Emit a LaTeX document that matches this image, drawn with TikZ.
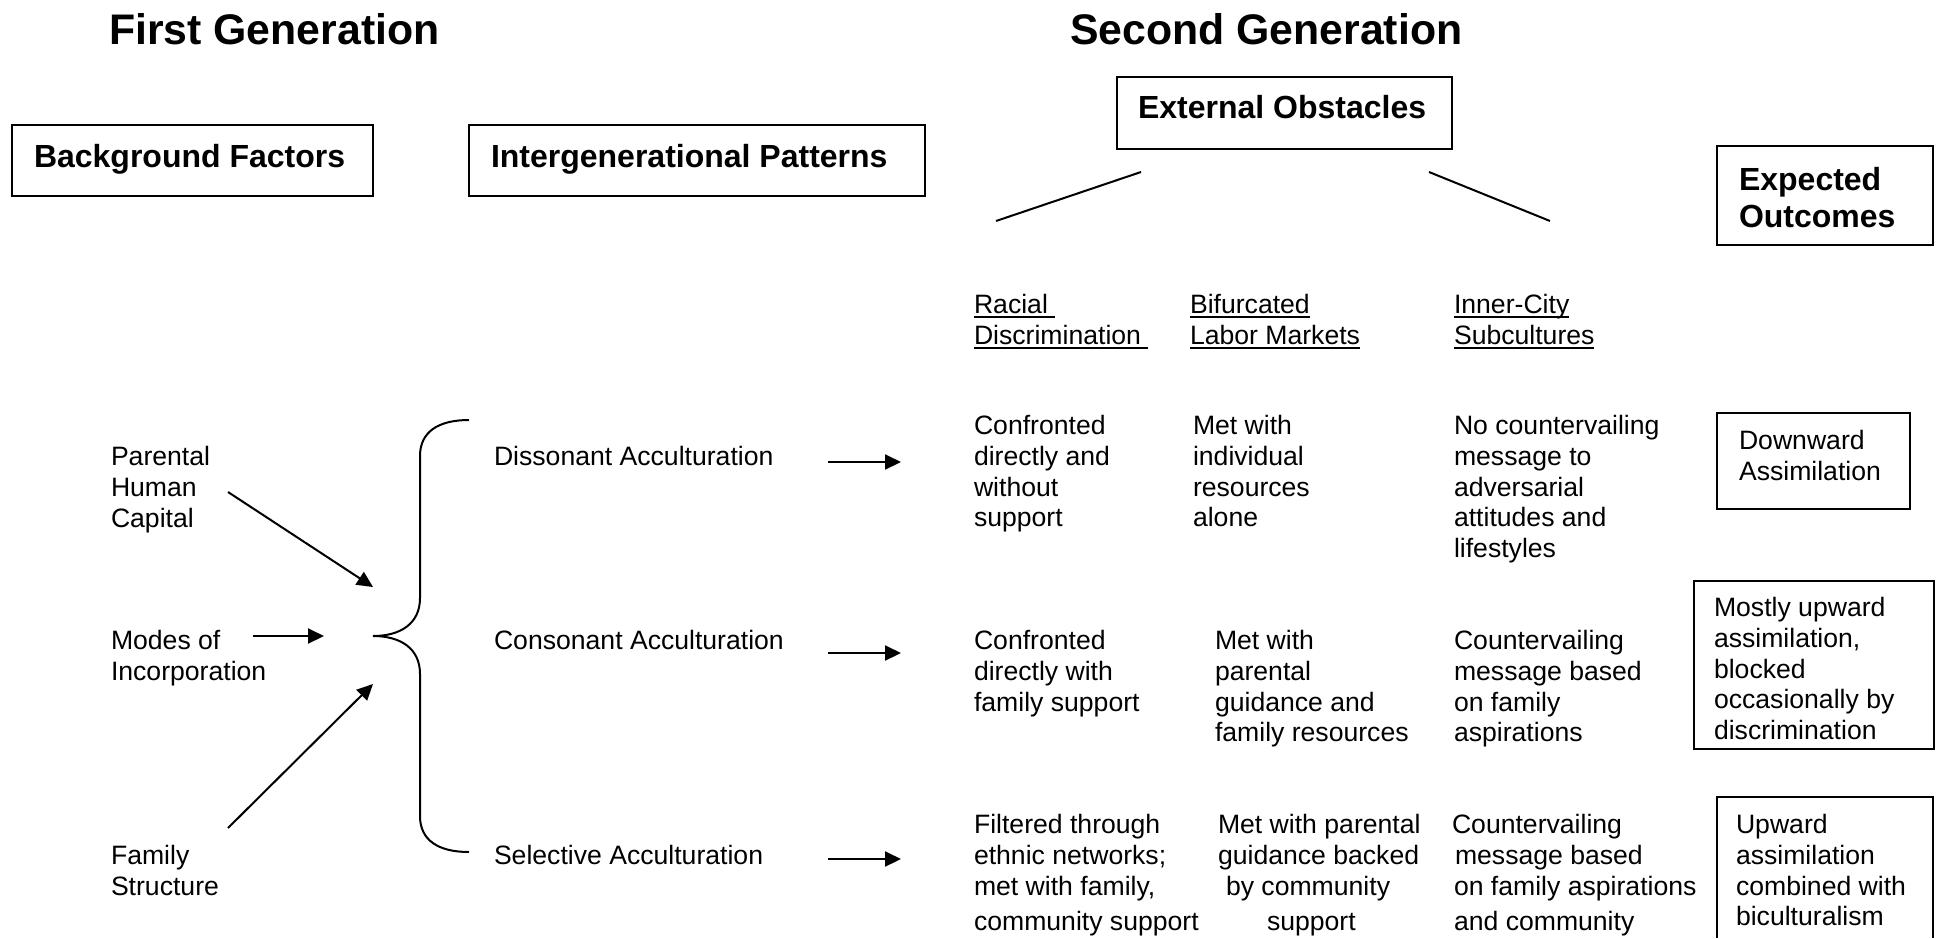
\documentclass[tikz,border=0pt]{standalone}
\usepackage{fontspec}
\setmainfont{Liberation Sans}
\usetikzlibrary{arrows.meta}

\newcommand{\ulword}[1]{\setbox0\hbox{#1}\rlap{\rule[-2.2pt]{\wd0}{0.9pt}}\box0}

\begin{document}
\begin{tikzpicture}[x=0.5pt, y=-0.5pt, line width=1pt,
    >={Triangle[length=8pt, width=7.5pt]},
    txt/.style={anchor=north west, inner sep=0pt, align=left,
      font=\fontsize{13.3}{15.45}\selectfont},
    head/.style={txt, font=\fontsize{16}{18.5}\selectfont\bfseries},
    title/.style={txt, font=\fontsize{21.4}{25}\selectfont\bfseries}]
  \useasboundingbox (0,0) rectangle (1936,938);

  \node[title] (gen1) at (108, 12) {First Generation};
  \node[title] (gen2) at (1069, 12) {Second Generation};

  % boxed headings
  \draw (12,125) rectangle (373,196);
  \node[head] (bg) at (33, 143) {Background Factors};
  \draw (469,125) rectangle (925,196);
  \node[head] (ip) at (490, 143) {Intergenerational Patterns};
  \draw (1117,77) rectangle (1452,149);
  \node[head] (ext) at (1137, 94) {External Obstacles};
  \draw (1717,146) rectangle (1933,245);
  \node[head] (exp) at (1738, 166) {Expected\\Outcomes};

  \coordinate (ext-l1) at (1141,172);
  \coordinate (ext-l2) at (996,221);
  \coordinate (ext-r1) at (1429,172);
  \coordinate (ext-r2) at (1550,221);
  \draw (ext-l1) -- (ext-l2);
  \draw (ext-r1) -- (ext-r2);

  \node[txt] (racial) at (973, 293) {\ulword{Racial\ }\\\ulword{Discrimination\ }};
  \node[txt] (labor) at (1189, 293) {\ulword{Bifurcated}\\\ulword{Labor Markets}};
  \node[txt] (inner) at (1453, 293) {\ulword{Inner-City}\\\ulword{Subcultures}};

  % background factors
  \node[txt] (human) at (110, 445) {Parental\\Human\\Capital};
  \node[txt] (modes) at (110, 629) {Modes of\\Incorporation};
  \node[txt] (family) at (110, 844) {Family\\Structure};

  \coordinate (tip) at (373,636);
  \coordinate (human-a) at (228,492);
  \coordinate (human-b) at (373,587);
  \coordinate (modes-a) at (253,636);
  \coordinate (modes-b) at (324,636);
  \coordinate (family-a) at (228,828);
  \coordinate (family-b) at (373,684);
  \draw[->] (human-a) -- (human-b);
  \draw[->] (modes-a) -- (modes-b);
  \draw[->] (family-a) -- (family-b);

  \draw (469,420) .. controls (438,420) and (420,432) .. (420,456)
    -- (420,598) .. controls (420,624) and (400,636) .. (tip)
    .. controls (400,636) and (420,648) .. (420,674)
    -- (420,816) .. controls (420,840) and (438,852) .. (469,852);

  % intergenerational patterns
  \node[txt] (dis) at (493, 445) {Dissonant Acculturation};
  \node[txt] (con) at (493, 629) {Consonant Acculturation};
  \node[txt] (sel) at (493, 844) {Selective Acculturation};

  \coordinate (dis-a) at (828,462);
  \coordinate (dis-b) at (901,462);
  \coordinate (con-a) at (828,653);
  \coordinate (con-b) at (901,653);
  \coordinate (sel-a) at (828,859);
  \coordinate (sel-b) at (901,859);
  \draw[->] (dis-a) -- (dis-b);
  \draw[->] (con-a) -- (con-b);
  \draw[->] (sel-a) -- (sel-b);

  % dissonant row
  \node[txt] (dis-race) at (973, 414) {Confronted\\directly and\\without\\support};
  \node[txt] (dis-labor) at (1192, 414) {Met with\\individual\\resources\\alone};
  \node[txt] (dis-city) at (1453, 414) {No countervailing\\message to\\adversarial\\attitudes and\\lifestyles};
  \draw (1717,413) rectangle (1910,509);
  \node[txt] (down) at (1738, 429) {Downward\\Assimilation};

  % consonant row
  \node[txt] (con-race) at (973, 629) {Confronted\\directly with\\family support};
  \node[txt] (con-labor) at (1214, 629) {Met with\\parental\\guidance and\\family resources};
  \node[txt] (con-city) at (1453, 629) {Countervailing\\message based\\on family\\aspirations};
  \draw (1694,581) rectangle (1934,749);
  \node[txt] (mostly) at (1713, 596) {Mostly upward\\assimilation,\\blocked\\occasionally by\\discrimination};

  % selective row
  \node[txt] (sel-race) at (973, 813) {Filtered through\\ethnic networks;\\met with family,\\[2.5pt]community support};
  \node[txt] (sel-labor) at (1217, 813) {Met with parental\\guidance backed\\\hspace*{4pt}by community\\[2.5pt]\hspace*{24.5pt}support};
  \node[txt] (sel-city) at (1451, 813) {Countervailing\\\hspace*{1.5pt}message based\\\hspace*{1pt}on family aspirations\\[2.5pt]\hspace*{1pt}and community};
  \draw (1717,938) |- (1933,797) -- (1933,938);
  \node[txt] (up) at (1735, 813) {Upward\\assimilation\\combined with\\biculturalism};
\end{tikzpicture}
\end{document}
